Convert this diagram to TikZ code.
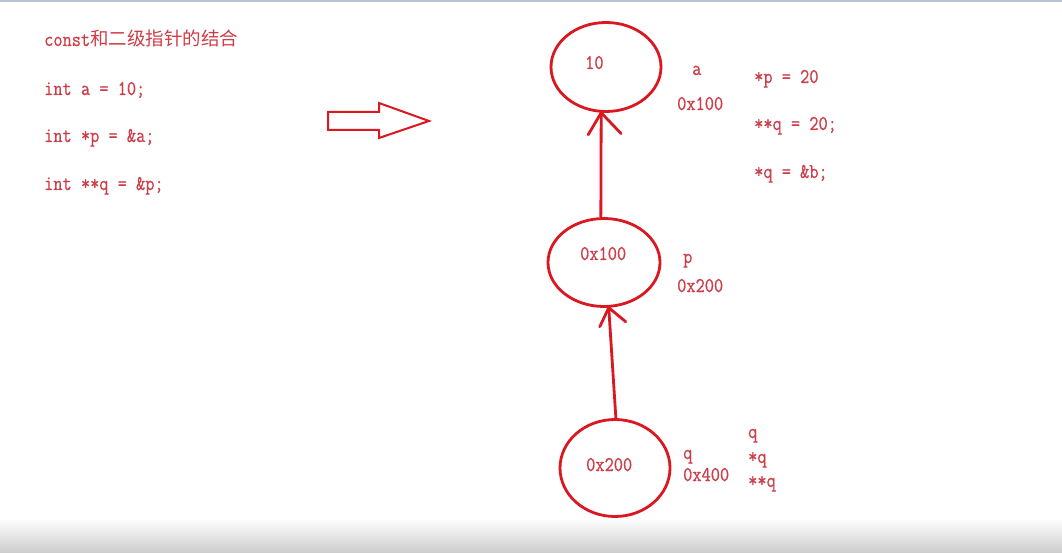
\documentclass[tikz,border=0pt]{standalone}
\usepackage{fontspec}
\usetikzlibrary{shapes.geometric,calc}
\newfontfamily\codefont[FakeStretch=0.85,FakeBold=0.6]{Latin Modern Mono}
\newfontfamily\cjkfont{Noto Sans CJK SC}
\definecolor{lred}{RGB}{218,24,34}
\definecolor{tred}{RGB}{205,62,72}
\definecolor{topline}{RGB}{188,194,214}
\tikzset{
  bubble/.style={draw=lred, line width=2.8pt, ellipse, inner sep=0pt},
  txt/.style={text=tred, font=\codefont\fontsize{21}{23}\selectfont, anchor=base west, inner sep=0pt},
  link/.style={draw=lred, line width=2.8pt},
  bigarrow/.style={draw=lred, line width=2pt, line join=miter}
}
\begin{document}
\begin{tikzpicture}[x=1pt,y=-1pt]
\useasboundingbox (0,0) rectangle (1062,553);
\fill[white] (0,0) rectangle (1062,553);
\fill[topline] (0,0) rectangle (1062,1.6);
\shade[top color=white, bottom color=black!20] (0,518) rectangle (1062,553);

% code on the left
\node[txt] (title) at (44,46) {const{\cjkfont\fontsize{18.5}{20}\selectfont 和二级指针的结合}};
\node[txt] (c1) at (44,95) {int a = 10;};
\node[txt] (c2) at (44,142) {int *p = \&a;};
\node[txt] (c3) at (44,190) {int **q = \&p;};

% hollow arrow
\draw[bigarrow] (328,112) -- (379,112) -- (379,103) -- (429,121) -- (379,138) -- (379,130) -- (328,130) -- cycle;

% ellipses
\node[bubble, minimum width=110pt, minimum height=89pt] (top) at (606,67) {};
\node[bubble, minimum width=112pt, minimum height=88pt] (mid) at (604,262.5) {};
\node[bubble, minimum width=110pt, minimum height=97pt] (bot) at (615,468) {};

% texts in and beside ellipses
\node[txt] (v10) at (585,69) {10};
\node[txt] (la) at (692,75) {a};
\node[txt] (ad1) at (677,110) {0x100};
\node[txt] (e1) at (754,83) {*p = 20};
\node[txt] (e2) at (754,130) {**q = 20;};
\node[txt] (e3) at (754,178) {*q = \&b;};

\node[txt] (v100) at (580,260) {0x100};
\node[txt] (lp) at (683,263) {p};
\node[txt] (ad2) at (677,292) {0x200};

\node[txt] (v200) at (586,471) {0x200};
\node[txt] (lq) at (683,459) {q};
\node[txt] (ad4) at (683,481) {0x400};
\node[txt] (q1) at (748,438) {q};
\node[txt] (q2) at (748,463) {*q};
\node[txt] (q3) at (748,487) {**q};

% connectors with open heads
\draw[link] (mid.94) -- (top.264);
\draw[link, line cap=round] ($(top.264)+(-13,22)$) -- (top.264) -- ($(top.264)+(20,21)$);
\draw[link] (bot.89) -- (mid.276);
\draw[link, line cap=round] ($(mid.276)+(-9,19)$) -- (mid.276) -- ($(mid.276)+(17,14)$);
\end{tikzpicture}
\end{document}
